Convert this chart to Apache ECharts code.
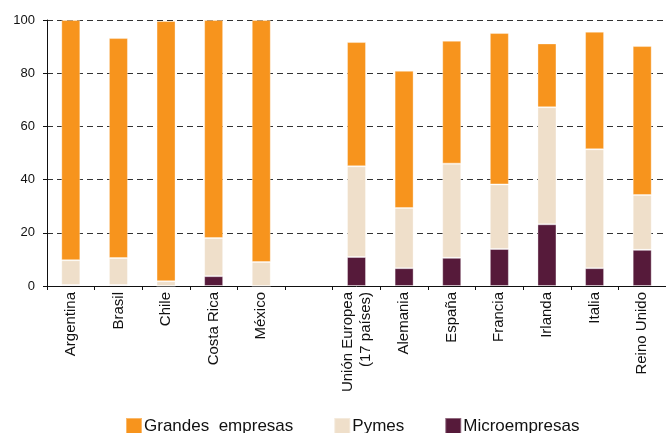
<!DOCTYPE html>
<html>
<head>
<meta charset="utf-8">
<script src="https://cdn.jsdelivr.net/npm/echarts@6/dist/echarts.min.js"></script>
<style>
  html, body { margin: 0; padding: 0; background: #fff; }
  #chart { width: 666px; height: 433px; }
</style>
</head>
<body>
<div id="chart"></div>
<script>
// categorias (la vacia separa America Latina de Europa)
const categorias = ['Argentina', 'Brasil', 'Chile', 'Costa Rica', 'México', '',
  'Unión Europea\n(17 países)', 'Alemania', 'España', 'Francia', 'Irlanda', 'Italia', 'Reino Unido'];

// porcentajes de cada tramo (se apilan)
const microempresas = [0.4, 0.4, 0, 3.7, 0, null, 10.9, 6.7, 10.6, 13.9, 23.2, 6.7, 13.6];
const pymes = [9.3, 10.1, 1.8, 14.3, 9.0, null, 34.1, 22.6, 35.4, 24.3, 44.0, 44.7, 20.6];
const grandesEmpresas = [90.3, 82.7, 97.8, 82.0, 91.0, null, 46.7, 51.6, 46.2, 56.9, 24.0, 44.2, 56.0];

const yTicks = [0, 20, 40, 60, 80, 100];

const chart = echarts.init(document.getElementById('chart'));

const fuente = 'Liberation Sans, Arial, sans-serif';

function serie(nombre, datos, color) {
  return {
    name: nombre,
    type: 'bar',
    stack: 'total',
    barWidth: 19,
    data: datos,
    itemStyle: {
      color: color,
      borderColor: 'rgba(255,255,255,0.35)',
      borderWidth: 1
    }
  };
}

chart.setOption({
  animation: false,
  textStyle: { fontFamily: fuente },
  grid: { left: 47, top: 20, width: 630, height: 266 },
  legend: {
    left: 120,
    top: 412,
    itemWidth: 16,
    itemHeight: 16,
    itemGap: 40,
    icon: 'rect',
    textStyle: { fontSize: 17, color: '#111', fontFamily: fuente, padding: [0, 0, 0, -3] },
    data: ['Grandes  empresas', 'Pymes', 'Microempresas']
  },
  xAxis: {
    type: 'category',
    data: categorias,
    axisLine: { lineStyle: { color: '#111', width: 1 } },
    axisTick: { show: true, length: 4, lineStyle: { color: '#111' } },
    axisLabel: {
      rotate: 90,
      interval: 0,
      margin: 6,
      fontSize: 15,
      lineHeight: 18,
      color: '#111',
      fontFamily: fuente
    }
  },
  yAxis: {
    type: 'value',
    min: yTicks[0],
    max: yTicks[yTicks.length - 1],
    interval: 20,
    axisLine: { show: true, lineStyle: { color: '#111', width: 1 } },
    axisTick: { show: true, length: 4, lineStyle: { color: '#111' } },
    axisLabel: { fontSize: 13, color: '#111', margin: 12, fontFamily: fuente },
    splitLine: { lineStyle: { color: '#333', type: [6, 4], width: 1 } }
  },
  series: [
    serie('Microempresas', microempresas, '#561A3A'),
    serie('Pymes', pymes, '#EFDFCA'),
    serie('Grandes  empresas', grandesEmpresas, '#F7941D')
  ]
});
</script>
</body>
</html>
